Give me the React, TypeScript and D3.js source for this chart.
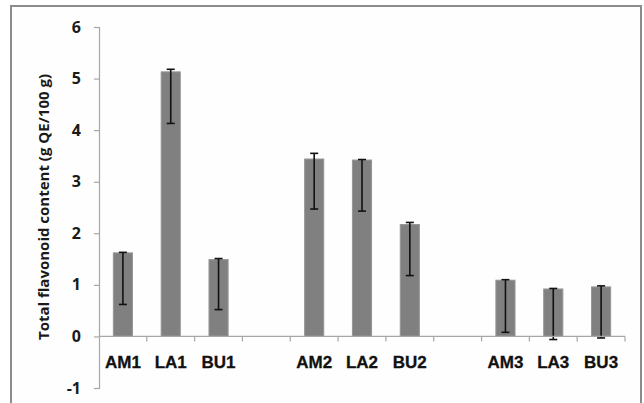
import * as d3 from "d3";
import { useEffect, useRef } from "react";

const WIDTH = 644;
const HEIGHT = 403;
const MARGIN = { top: 27, right: 19, bottom: 15, left: 99 };

// chart data
const categories = ["AM1", "LA1", "BU1", "", "AM2", "LA2", "BU2", "", "AM3", "LA3", "BU3"];
const values = [1.62, 5.13, 1.49, null, 3.44, 3.42, 2.17, null, 1.09, 0.92, 0.96];
const errHigh = [1.63, 5.18, 1.51, null, 3.55, 3.43, 2.21, null, 1.1, 0.93, 0.98];
const errLow = [0.62, 4.13, 0.52, null, 2.47, 2.43, 1.18, null, 0.08, -0.06, -0.03];
const yTicks = [-1, 0, 1, 2, 3, 4, 5, 6];
const yTitle = "Total flavonoid content (g QE/100 g)";

const ids = categories.map((c, i) => `${i}`);
const FONT = "'Open Sans', 'Noto Sans', sans-serif";

export default function App() {
  const axesRef = useRef(null);
  const boundsWidth = WIDTH - MARGIN.left - MARGIN.right;
  const boundsHeight = HEIGHT - MARGIN.top - MARGIN.bottom;

  const xScale = d3.scaleBand().domain(ids).range([0, 526]).padding(0);
  const yScale = d3.scaleLinear().domain([-1, 6]).range([361, 0]);
  const barW = xScale.bandwidth() * 0.4;

  useEffect(() => {
    const g = d3.select(axesRef.current);
    g.selectAll("*").remove();

    // y axis
    const yAxis = g
      .append("g")
      .call(d3.axisLeft(yScale).tickValues(yTicks).tickSize(5).tickPadding(13).tickFormat((d) => String(d)));
    yAxis.select(".domain").attr("stroke", "#a6a6a6").attr("stroke-width", 1.2);
    yAxis.selectAll(".tick line").attr("stroke", "#a6a6a6").attr("stroke-width", 1.2);
    yAxis
      .selectAll(".tick text")
      .attr("fill", "#1a1a1a")
      .attr("font-family", FONT)
      .attr("font-weight", "bold")
      .attr("font-size", 16);

    // x axis at zero, with ticks between categories
    const y0 = yScale(0);
    const xg = g.append("g").attr("transform", `translate(0,${y0})`);
    xg.append("line")
      .attr("x1", 0)
      .attr("x2", 526)
      .attr("stroke", "#a6a6a6")
      .attr("stroke-width", 1.2);
    const bounds = ids.map((id) => xScale(id)!).concat([526]);
    xg.selectAll(".xt")
      .data(bounds.slice(1))
      .enter()
      .append("line")
      .attr("x1", (d) => d)
      .attr("x2", (d) => d)
      .attr("y1", 0)
      .attr("y2", 5)
      .attr("stroke", "#a6a6a6")
      .attr("stroke-width", 1.2);
    xg.selectAll(".xl")
      .data(categories)
      .enter()
      .append("text")
      .attr("x", (d, i) => xScale(ids[i])! + xScale.bandwidth() / 2)
      .attr("y", 32)
      .attr("text-anchor", "middle")
      .attr("fill", "#111")
      .attr("font-family", "'Liberation Sans', Arial, sans-serif")
      .attr("font-weight", "bold")
      .attr("font-size", 17)
      .attr("stroke", "#111")
      .attr("stroke-width", 0.3)
      .text((d) => d);
  }, []);

  const bars = values.map((v, i) => {
    if (v === null) return null;
    const cx = xScale(ids[i])! + xScale.bandwidth() / 2;
    const top = yScale(v);
    return (
      <g key={i}>
        <rect
          x={cx - barW / 2}
          width={barW}
          y={top}
          height={yScale(0) - top}
          fill="#808080"
          stroke="#969696"
          strokeWidth={1}
        />
        <line x1={cx} x2={cx} y1={yScale(errHigh[i]!)} y2={yScale(errLow[i]!)} stroke="#111" strokeWidth={1.6} />
        <line x1={cx - 4} x2={cx + 4} y1={yScale(errHigh[i]!)} y2={yScale(errHigh[i]!)} stroke="#111" strokeWidth={1.6} />
        <line x1={cx - 4} x2={cx + 4} y1={yScale(errLow[i]!)} y2={yScale(errLow[i]!)} stroke="#111" strokeWidth={1.6} />
      </g>
    );
  });

  return (
    <svg
      width={WIDTH}
      height={HEIGHT}
      style={{ position: "absolute", left: 0, top: 0, background: "#fff" }}
    >
      <rect x={11} y={6} width={630} height={420} fill="#fefefe" stroke="#8c8c8c" strokeWidth={2} />
      <g transform={`translate(${MARGIN.left},${MARGIN.top})`} width={boundsWidth} height={boundsHeight}>
        {bars}
      </g>
      <g ref={axesRef} transform={`translate(${MARGIN.left},${MARGIN.top})`} />
      <text
        transform="translate(49,207) rotate(-90)"
        textAnchor="middle"
        fill="#1a1a1a"
        fontFamily={FONT}
        fontWeight="bold"
        fontSize={15}
      >
        {yTitle}
      </text>
    </svg>
  );
}
